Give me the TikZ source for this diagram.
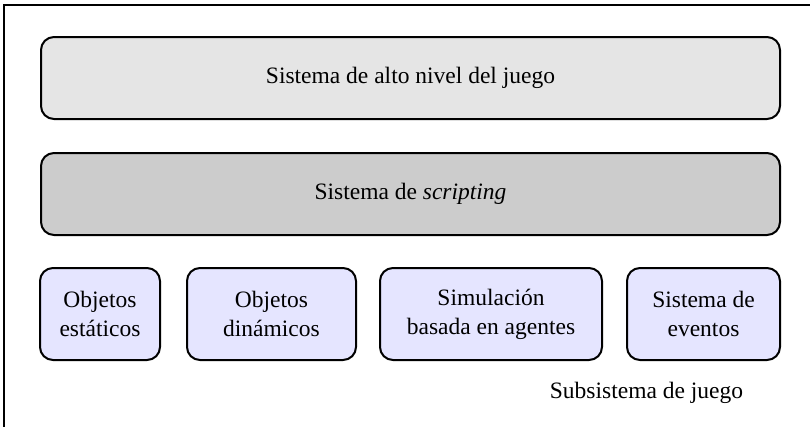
\documentclass[tikz,border=0pt]{standalone}
\usepackage{fontspec}
\setmainfont{Liberation Serif}
\begin{document}
\begin{tikzpicture}[x=1pt,y=-1pt,
  layer/.style={draw=black, line width=2pt, rounded corners=13pt, align=center,
    font=\fontsize{23.5}{29}\selectfont, inner sep=0pt},
  toplayer/.style={layer, fill=black!10, minimum width=739pt, minimum height=82pt},
  midlayer/.style={layer, fill=black!20, minimum width=739pt, minimum height=82pt},
  sub/.style={layer, fill=blue!10!white, minimum height=92pt},
  lbl/.style={font=\fontsize{23.5}{29}\selectfont, inner sep=0pt}]
\useasboundingbox (0,0) rectangle (810,426);
\draw[line width=2pt] (4,440) -- (4,5) -- (820,5);
\node[toplayer] (top) at (410.5,78) {Sistema de alto nivel del juego};
\node[midlayer] (mid) at (410.5,194) {Sistema de \textit{scripting}};
\node[sub, minimum width=120pt] (est) at (100,314) {Objetos\\estáticos};
\node[sub, minimum width=169pt] (din) at (271.5,314) {Objetos\\dinámicos};
\node[sub, minimum width=222pt] (sim) at (491,314) {Simulación\\basada en agentes};
\node[sub, minimum width=153pt] (eve) at (703.5,314) {Sistema de\\eventos};
\node[lbl] (cap) at (646.5,393) {Subsistema de juego};
\end{tikzpicture}
\end{document}
